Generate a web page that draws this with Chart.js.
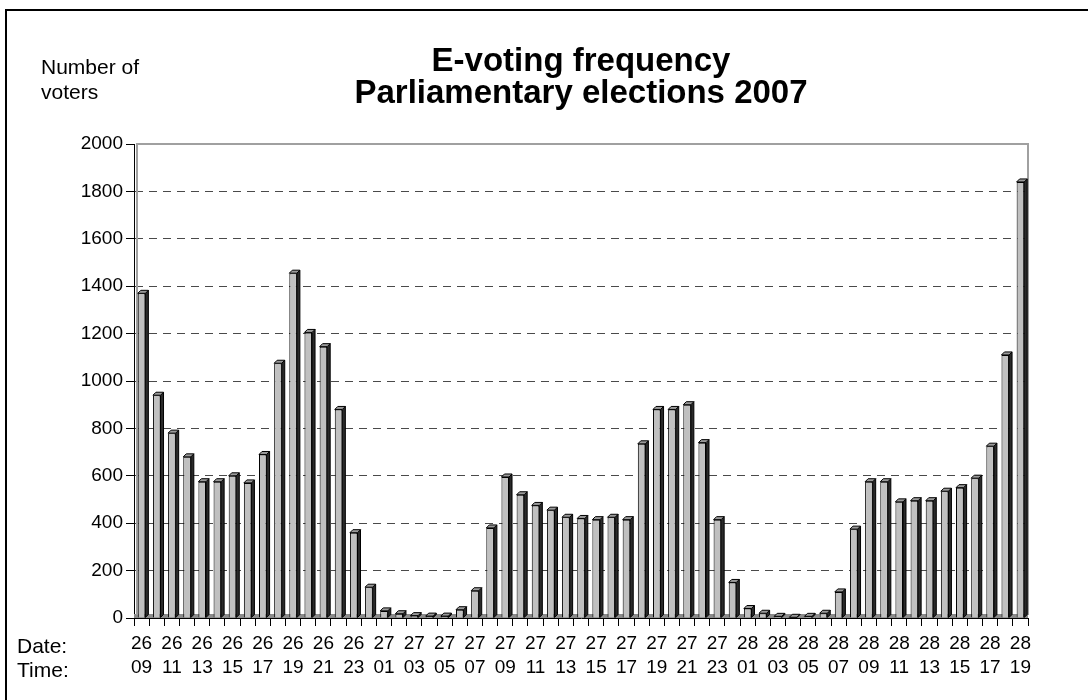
<!DOCTYPE html>
<html>
<head>
<meta charset="utf-8">
<title>E-voting frequency</title>
<script src="https://cdn.jsdelivr.net/npm/chart.js@4.4.1/dist/chart.umd.min.js"></script>
<style>
  body { margin: 0; background: #fff; font-family: "Liberation Sans", Arial, sans-serif; }
  #wrap { position: relative; width: 1088px; height: 700px; overflow: hidden; }
  #frame { position: absolute; left: 5px; top: 9px; right: -4px; bottom: -4px; border-left: 2px solid #000; border-top: 2px solid #000; }
  canvas { position: absolute; left: 0; top: 0; }
  .note { position: absolute; font-size: 21px; color: #000; }
</style>
</head>
<body>
<div id="wrap">
  <div id="frame"></div>
  <canvas id="barChart" width="1088" height="700"></canvas>
  <div class="note" style="left:41px; top:54px; line-height:25px;">Number of<br>voters</div>
  <div class="note" style="left:17px; top:634px; line-height:23.5px;">Date:<br>Time:</div>
</div>
<script>
document.addEventListener('DOMContentLoaded', function () {
    // one bar per hour, "day hour"
    var categories = [
        '26 09', '26 10', '26 11', '26 12', '26 13', '26 14', '26 15', '26 16', '26 17', '26 18',
        '26 19', '26 20', '26 21', '26 22', '26 23',
        '27 00', '27 01', '27 02', '27 03', '27 04', '27 05', '27 06', '27 07', '27 08', '27 09',
        '27 10', '27 11', '27 12', '27 13', '27 14', '27 15', '27 16', '27 17', '27 18', '27 19',
        '27 20', '27 21', '27 22', '27 23',
        '28 00', '28 01', '28 02', '28 03', '28 04', '28 05', '28 06', '28 07', '28 08', '28 09',
        '28 10', '28 11', '28 12', '28 13', '28 14', '28 15', '28 16', '28 17', '28 18', '28 19'
    ];

    var voters = [
        1370, 940, 780, 680, 575, 575, 600, 570, 690, 1075,
        1455, 1205, 1145, 880, 360,
        130, 30, 18, 10, 8, 8, 35, 115, 380, 595,
        520, 475, 455, 425, 420, 415, 425, 415, 735, 880,
        880, 900, 740, 415,
        150, 40, 20, 7, 3, 7, 20, 110, 375, 575,
        575, 490, 495, 495, 535, 550, 590, 725, 1110, 1840
    ];

    var titleLines = ['E-voting frequency', 'Parliamentary elections 2007'];

    var yMin = 0, yMax = 2000, yStep = 200;

    var depth = 3; // fake 3D offset in px

    // back wall lines and grey floor
    var wallPlugin = {
        id: 'wall',
        beforeDatasetsDraw: function (chart) {
            var a = chart.chartArea, c = chart.ctx;
            c.save();
            c.fillStyle = '#8c8c8c';
            c.fillRect(a.left, a.bottom - depth - 1, a.right - a.left, depth + 1);
            c.strokeStyle = '#a0a0a0';
            c.lineWidth = 2;
            c.beginPath();
            c.moveTo(a.left + depth, a.bottom - depth);
            c.lineTo(a.left + depth, a.top);
            c.lineTo(a.right, a.top);
            c.lineTo(a.right, a.bottom - depth);
            c.stroke();
            c.restore();
        }
    };

    // side and top faces of every bar
    var bar3dPlugin = {
        id: 'bar3d',
        afterDatasetsDraw: function (chart) {
            var c = chart.ctx;
            chart.getDatasetMeta(0).data.forEach(function (bar) {
                var p = bar.getProps(['x', 'y', 'base', 'width'], true);
                var r = p.x + p.width / 2, l = p.x - p.width / 2;
                c.save();
                c.strokeStyle = '#000';
                c.lineWidth = 1;
                c.fillStyle = '#2a2a2a';
                c.beginPath();
                c.moveTo(r, p.y);
                c.lineTo(r + depth, p.y - depth);
                c.lineTo(r + depth, p.base - depth);
                c.lineTo(r, p.base);
                c.closePath();
                c.fill();
                c.stroke();
                c.fillStyle = '#9a9a9a';
                c.beginPath();
                c.moveTo(l, p.y);
                c.lineTo(l + depth, p.y - depth);
                c.lineTo(r + depth, p.y - depth);
                c.lineTo(r, p.y);
                c.closePath();
                c.fill();
                c.stroke();
                c.restore();
            });
        }
    };

    var ctx = document.getElementById('barChart').getContext('2d');
    var chart = new Chart(ctx, {
        type: 'bar',
        data: {
            labels: categories,
            datasets: [{
                label: 'Number of voters',
                data: voters,
                backgroundColor: '#c0c0c0',
                borderColor: '#000',
                borderWidth: 1,
                borderSkipped: 'bottom',
                barPercentage: 0.5,
                categoryPercentage: 1.0
            }]
        },
        options: {
            responsive: false,
            animation: false,
            layout: {
                padding: { top: 46, right: 60, bottom: 0, left: 0 }
            },
            plugins: {
                legend: { display: false },
                tooltip: { enabled: false },
                title: {
                    display: true,
                    text: titleLines,
                    fullSize: false,
                    color: '#000',
                    font: { family: 'Liberation Sans, Arial', size: 33, weight: 'bold', lineHeight: 0.97 },
                    padding: { top: 0, bottom: 34 }
                }
            },
            scales: {
                x: {
                    offset: true,
                    grid: {
                        display: true,
                        offset: true,
                        drawOnChartArea: false,
                        tickLength: 8,
                        tickColor: '#000'
                    },
                    border: { display: true, color: '#000', width: 1 },
                    ticks: {
                        autoSkip: false,
                        maxRotation: 0,
                        padding: 6,
                        color: '#000',
                        font: { family: 'Liberation Sans, Arial', size: 19, lineHeight: 1.25 },
                        callback: function (value, index) {
                            if (index % 2 !== 0) return '';
                            return categories[index].split(' ');
                        }
                    },
                    afterFit: function (scale) { scale.height = 82; }
                },
                y: {
                    min: yMin,
                    max: yMax,
                    grid: {
                        color: function (c) {
                            var v = c.tick ? c.tick.value : null;
                            return (v === yMin || v === yMax) ? 'rgba(0,0,0,0)' : '#4a4a4a';
                        },
                        tickColor: '#000',
                        tickLength: 8
                    },
                    border: { display: true, color: '#000', width: 1, dash: [8, 6] },
                    ticks: {
                        stepSize: yStep,
                        padding: 3,
                        color: '#000',
                        font: { family: 'Liberation Sans, Arial', size: 19 },
                        callback: function (value) { return String(value); }
                    },
                    afterFit: function (scale) { scale.width = 134; }
                }
            }
        },
        plugins: [wallPlugin, bar3dPlugin]
    });
});
</script>
</body>
</html>
